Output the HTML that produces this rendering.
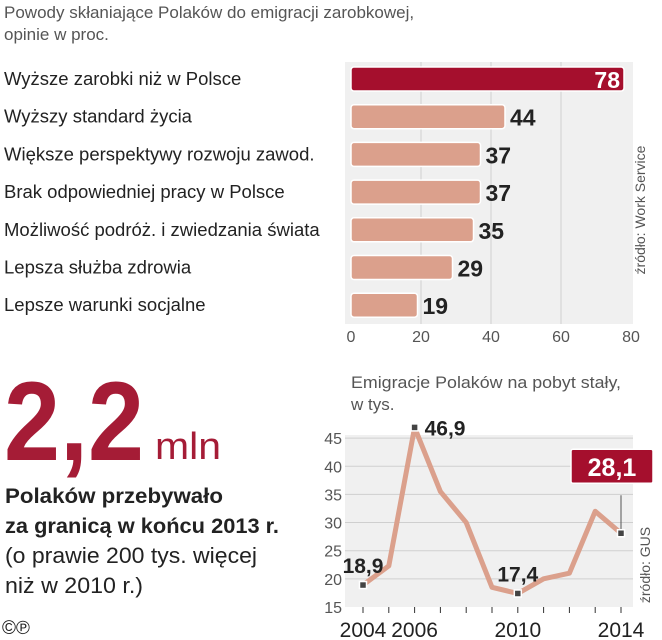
<!DOCTYPE html>
<html><head><meta charset="utf-8"><style>
html,body{margin:0;padding:0;background:#fff;}
svg{display:block;font-family:"Liberation Sans",sans-serif;}
</style></head><body>
<svg id="chart" width="662" height="640" viewBox="0 0 662 640" xmlns="http://www.w3.org/2000/svg">
<text x="4" y="18" font-size="17" fill="#555">Powody skłaniające Polaków do emigracji zarobkowej,</text>
<text x="4" y="40" font-size="17" fill="#555">opinie w proc.</text>
<rect x="345" y="62" width="288" height="262" fill="#f0f0f0"/>
<g id="bars"></g>
<text x="645" y="210" font-size="14" fill="#555" transform="rotate(-90 645 210)" text-anchor="middle">źródło: Work Service</text>

<text x="4" y="460" font-size="112" font-weight="bold" fill="#a51c36" textLength="140" lengthAdjust="spacingAndGlyphs">2,2</text>
<text x="155" y="459" font-size="38" fill="#a51c36" textLength="66" lengthAdjust="spacingAndGlyphs">mln</text>
<text x="5" y="503" font-size="21" font-weight="bold" fill="#222" textLength="218" lengthAdjust="spacingAndGlyphs">Polaków przebywało</text>
<text x="5" y="533" font-size="21" font-weight="bold" fill="#222" textLength="274" lengthAdjust="spacingAndGlyphs">za granicą w końcu 2013 r.</text>
<text x="5" y="563" font-size="22" fill="#222" textLength="252" lengthAdjust="spacingAndGlyphs">(o prawie 200 tys. więcej</text>
<text x="5" y="593" font-size="22" fill="#222" textLength="138" lengthAdjust="spacingAndGlyphs">niż w 2010 r.)</text>
<text x="2" y="634" font-size="19" fill="#222">©℗</text>

<text x="351" y="388" font-size="17" fill="#555" textLength="270" lengthAdjust="spacingAndGlyphs">Emigracje Polaków na pobyt stały,</text>
<text x="351" y="410" font-size="17" fill="#555">w tys.</text>
<rect x="345" y="435" width="288" height="172" fill="#f0f0f0"/>
<g id="line"></g>
<text x="650" y="565" font-size="14" fill="#555" transform="rotate(-90 650 565)" text-anchor="middle">źródło: GUS</text>
</svg>
<script>
const barCategories=["Wyższe zarobki niż w Polsce","Wyższy standard życia","Większe perspektywy rozwoju zawod.","Brak odpowiedniej pracy w Polsce","Możliwość podróż. i zwiedzania świata","Lepsza służba zdrowia","Lepsze warunki socjalne"];
const barValues=[78,44,37,37,35,29,19];
const barTicks=[0,20,40,60,80];
const years=[2004,2005,2006,2007,2008,2009,2010,2011,2012,2013,2014];
const emigration=[18.9,22.3,46.9,35.5,30,18.5,17.4,20,21,32,28.1];
const yTicks=[15,20,25,30,35,40,45];
const xTickLabels=[2004,2006,2010,2014];
const labeledYears=[2004,2006,2010];
const NS="http://www.w3.org/2000/svg";
function mk(tag,attrs,parent,text){const e=document.createElementNS(NS,tag);for(const k in attrs)e.setAttribute(k,attrs[k]);if(text!==undefined)e.textContent=text;parent.appendChild(e);return e;}
const fmt=v=>String(v).replace('.',',');
const bx=v=>351+v*3.5;
const by=i=>79+i*37.7;
const bg=document.getElementById('bars');
barTicks.forEach(t=>{
 if(t>0&&t<80){const l=mk('line',{x1:bx(t),x2:bx(t),y1:62,y2:324,stroke:'#cfcfcf','stroke-width':1},bg);
 
 }
 const tx=mk('text',{x:bx(t),y:342,'font-size':16,fill:'#555','text-anchor':'middle'},bg,t);
 
 
});
barValues.forEach((v,i)=>{
 const first=i===0;
 const lab=mk('text',{x:4,y:by(i)+6,'font-size':18.5,fill:'#222'},bg,barCategories[i]);
 
 
 const r=mk('rect',{x:bx(0),y:by(i)-12,width:bx(v)-bx(0),height:24,rx:3,fill:first?'#a50f2d':'#dba08c',stroke:'#fff','stroke-width':1.5},bg);
 
 
 const t=mk('text',{x:first?bx(v)-4:bx(v)+5,y:by(i)+9,'font-size':23,'font-weight':'bold',fill:first?'#fff':'#222','text-anchor':first?'end':'start'},bg,v);
 
 
});
const lx=y=>363+(y-2004)*25.8;
const ly=v=>607-(v-15)*5.63;
const lg=document.getElementById('line');
yTicks.forEach(t=>{
 if(t>15){const l=mk('line',{x1:345,x2:633,y1:ly(t),y2:ly(t),stroke:'#cfcfcf','stroke-width':1},lg);
 
 }
 const tx=mk('text',{x:342,y:ly(t)+6,'font-size':16,fill:'#555','text-anchor':'end'},lg,t);
 
 
});
years.forEach(y=>{
 const l=mk('line',{x1:lx(y),x2:lx(y),y1:607,y2:613,stroke:'#333','stroke-width':1},lg);
 
 
});
xTickLabels.forEach(y=>{
 const t=mk('text',{x:lx(y),y:637,'font-size':21,fill:'#222','text-anchor':'middle'},lg,y);
 
 
});
const pts=years.map((y,i)=>lx(y)+','+ly(emigration[i])).join(' ');
const pl=mk('polyline',{points:pts,fill:'none',stroke:'#dba08c','stroke-width':5,'stroke-linejoin':'round'},lg);


const lastY=years[years.length-1], lastV=emigration[emigration.length-1];
const conn=mk('line',{x1:lx(lastY),x2:lx(lastY),y1:ly(lastV),y2:ly(lastV)-38,stroke:'#555','stroke-width':1},lg);


const cb=mk('rect',{x:lx(lastY)-50,y:ly(lastV)-84,width:82,height:34,rx:2,fill:'#a50f2d',stroke:'#fff','stroke-width':1.5},lg);


const ct=mk('text',{x:lx(lastY)-9,y:ly(lastV)-57,'font-size':25,'font-weight':'bold',fill:'#fff','text-anchor':'middle'},lg,fmt(lastV));


[...labeledYears,lastY].forEach(y=>{
 const i=years.indexOf(y);
 const m=mk('rect',{x:lx(y)-3.5,y:ly(emigration[i])-3.5,width:7,height:7,fill:'#444',stroke:'#fff','stroke-width':1.5},lg);
 
 
});
labeledYears.forEach(y=>{
 const i=years.indexOf(y);const v=emigration[i];
 const peak=y===2006;
 const t=mk('text',{x:peak?lx(y)+10:lx(y),y:peak?ly(v)+8:ly(v)-12,'font-size':21,'font-weight':'bold',fill:'#222','text-anchor':peak?'start':'middle'},lg,fmt(v));
 
 
});
</script>
</body></html>
